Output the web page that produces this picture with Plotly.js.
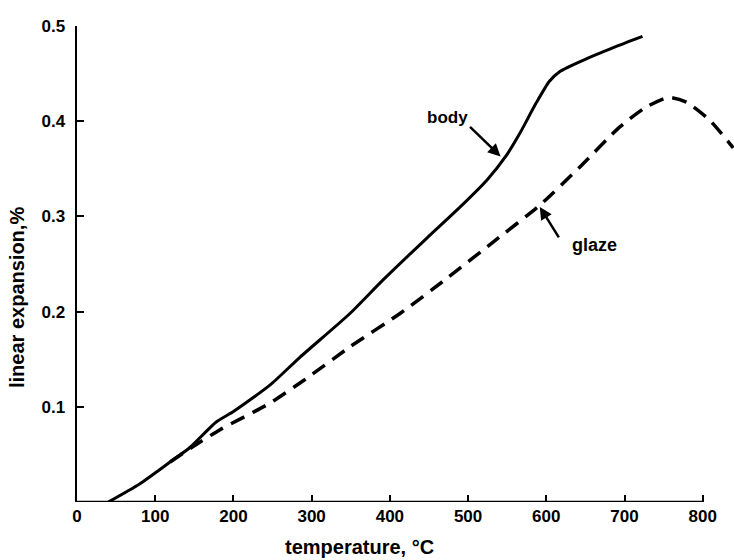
<!DOCTYPE html>
<html>
<head>
<meta charset="utf-8">
<script src="https://cdn.plot.ly/plotly-3.0.1.min.js"></script>
<style>html,body{margin:0;padding:0;background:#fff;}#chart{width:734px;height:560px;}</style>
</head>
<body>
<div id="chart"></div>
<script>
// Data
const bodyTemp = [40, 80, 119, 144, 178, 200, 247, 285, 349, 391, 447, 490, 524, 549, 566, 587, 604, 617, 647, 685, 723];
const bodyExp  = [0, 0.019, 0.042, 0.057, 0.084, 0.095, 0.123, 0.152, 0.198, 0.233, 0.277, 0.310, 0.338, 0.364, 0.387, 0.419, 0.442, 0.452, 0.464, 0.477, 0.489];

const glazeTemp = [119, 146, 183, 247, 292, 349, 413, 473, 532, 592, 643, 694, 728, 756, 779, 809, 839];
const glazeExp  = [0.042, 0.057, 0.076, 0.104, 0.129, 0.163, 0.198, 0.235, 0.273, 0.312, 0.352, 0.394, 0.415, 0.425, 0.420, 0.401, 0.372];

const xTicks = [0, 100, 200, 300, 400, 500, 600, 700, 800];
const yTicks = [0.1, 0.2, 0.3, 0.4, 0.5];
const yTickText = ['0.1', '0.2', '0.3', '0.4', '0.5'];

const tickFont = {family: 'Liberation Sans, Arial, sans-serif', size: 17, color: '#000', weight: 700};
const labFont = {family: 'Liberation Sans, Arial, sans-serif', size: 20, color: '#000', weight: 700};

const traces = [
  {x: bodyTemp, y: bodyExp, mode: 'lines', type: 'scatter', name: 'body',
   line: {color: '#000', width: 3, shape: 'spline', smoothing: 0.6}, hoverinfo: 'skip'},
  {x: glazeTemp, y: glazeExp, mode: 'lines', type: 'scatter', name: 'glaze',
   line: {color: '#000', width: 3.5, dash: '15px,9px', shape: 'spline', smoothing: 0.6}, hoverinfo: 'skip'}
];

const layout = {
  width: 734, height: 560,
  margin: {l: 77, r: 0, t: 26, b: 58},
  paper_bgcolor: '#fff', plot_bgcolor: '#fff',
  showlegend: false,
  xaxis: {
    range: [0, 840], tickvals: xTicks, ticktext: xTicks.map(String),
    ticks: 'inside', ticklen: 7, tickwidth: 2, tickcolor: '#000',
    showline: false, showgrid: false, zeroline: false,
    tickfont: tickFont, ticklabelstandoff: 2
  },
  yaxis: {
    range: [0, 0.5], tickvals: yTicks, ticktext: yTickText,
    ticks: 'inside', ticklen: 7, tickwidth: 2, tickcolor: '#000',
    showline: true, linewidth: 2.5, linecolor: '#000',
    showgrid: false, zeroline: false,
    tickfont: tickFont, ticklabelstandoff: 6
  },
  shapes: [
    {type: 'line', xref: 'x', yref: 'y', x0: 0, x1: 800, y0: 0, y1: 0,
     line: {color: '#000', width: 2.5}}
  ],
  annotations: [
    {text: 'linear expansion,%', xref: 'paper', yref: 'paper', x: -0.0913, y: 0.4286,
     textangle: -90, showarrow: false, font: labFont, xanchor: 'center', yanchor: 'middle'},
    {text: 'temperature, °C', xref: 'paper', yref: 'paper', x: 0.4307, y: -0.0945,
     showarrow: false, font: labFont, xanchor: 'center', yanchor: 'middle'},
    {text: 'body', xref: 'x', yref: 'y', x: 474, y: 0.404, showarrow: false,
     font: {family: 'Liberation Sans, Arial, sans-serif', size: 17, color: '#000', weight: 700}},
    {text: '', xref: 'x', yref: 'y', x: 541.5, y: 0.363, showarrow: true,
     ax: -32, ay: -31, arrowhead: 2, arrowsize: 1, arrowwidth: 2.5, arrowcolor: '#000'},
    {text: 'glaze', xref: 'x', yref: 'y', x: 662, y: 0.270, showarrow: false,
     font: {family: 'Liberation Sans, Arial, sans-serif', size: 18, color: '#000', weight: 700}},
    {text: '', xref: 'x', yref: 'y', x: 591.7, y: 0.310, showarrow: true,
     ax: 20, ay: 32, arrowhead: 2, arrowsize: 1, arrowwidth: 2.5, arrowcolor: '#000'}
  ]
};

Plotly.newPlot('chart', traces, layout, {displayModeBar: false, staticPlot: true});
</script>
</body>
</html>
